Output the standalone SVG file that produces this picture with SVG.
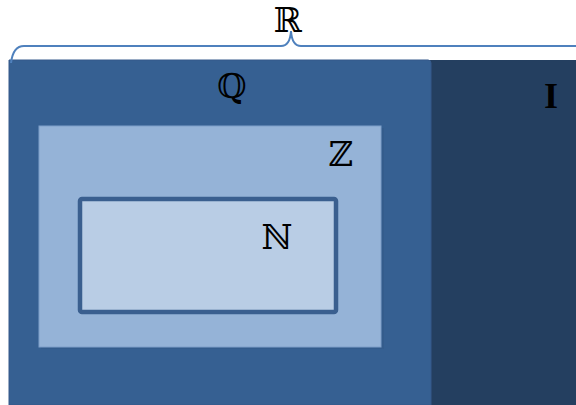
<svg xmlns="http://www.w3.org/2000/svg" width="576" height="405" viewBox="0 0 576 405">
  <style>
    .sym { font-family: "DejaVu Serif", "Liberation Serif", serif; font-size: 34px; fill: #000; text-anchor: middle; }
    .bold { font-family: "Liberation Serif", "DejaVu Serif", serif; font-weight: bold; font-size: 36px; fill: #000; text-anchor: middle; }
    .brace { fill: none; stroke: #4F81BD; stroke-width: 2; }
  </style>
  <rect width="576" height="405" fill="#FFFFFF"/>

  <!-- irrational numbers -->
  <g id="irrationals">
    <rect x="425" y="60" width="151" height="345" fill="#243F60"/>
    <text class="bold" x="551" y="108">I</text>
  </g>

  <!-- rational numbers -->
  <g id="rationals">
    <path d="M9,60 H428 Q431,60 431,63 V405 H9 Z" fill="#366092" stroke="#35598A" stroke-width="1"/>
    <text class="sym" x="232" y="98">ℚ</text>
  </g>

  <!-- integers -->
  <g id="integers">
    <rect x="41" y="128" width="343" height="221" fill="#345A88" opacity="0.6"/>
    <rect x="39" y="126" width="342" height="221" fill="#95B3D7" stroke="#7F9FC9" stroke-width="1"/>
    <text class="sym" x="341" y="166">ℤ</text>
  </g>

  <!-- natural numbers -->
  <g id="naturals">
    <rect x="80" y="199" width="256" height="113" rx="2" fill="#B9CDE5" stroke="#3A5F8F" stroke-width="4.5"/>
    <text class="sym" x="277" y="249">ℕ</text>
  </g>

  <!-- brace spanning all reals -->
  <g id="connectors">
    <path class="brace" d="M11,63 Q13,46 24,46 H281 Q290,46 291,31 Q292,46 301,46 H577"/>
  </g>
  <g id="reals">
    <text class="sym" x="288" y="32">ℝ</text>
  </g>
</svg>
